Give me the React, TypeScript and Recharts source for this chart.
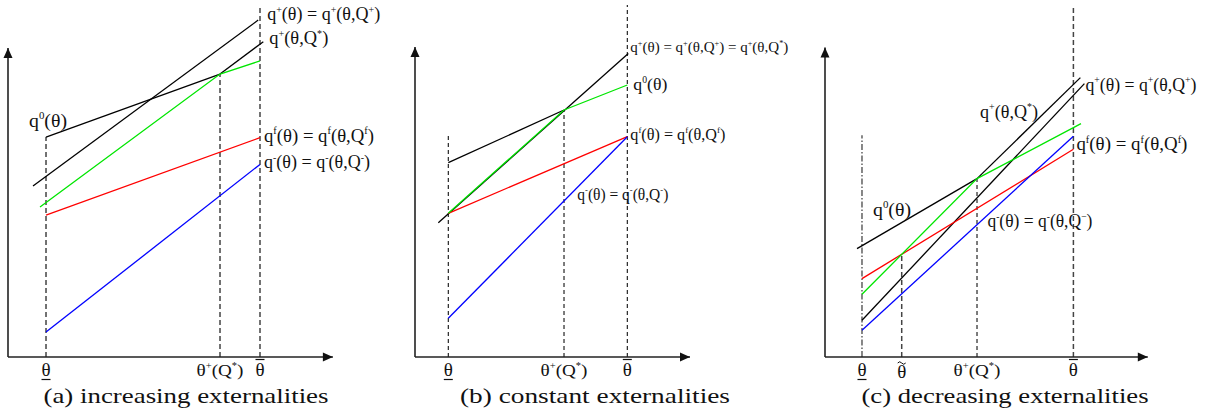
import React from "react";
import { ComposedChart, Line, Scatter, XAxis, YAxis } from "recharts";

type Pt = { x: number; y: number };

// (a) increasing externalities
const aTicks = [12.67, 70.67, 84];
const aTickKinds = ["under", "plusStar", "over"];
const aGuideTops = [73.3, 94.3, 117.3];
const aAxisEnds = [108.3, 103];
const aQPlus: Pt[] = [{ x: 8.33, y: 57 }, { x: 83.4, y: 112.3 }];
const aQ0: Pt[] = [{ x: 12.67, y: 73.3 }, { x: 70.67, y: 94.3 }];
const aQPlusStar: Pt[] = [{ x: 70.67, y: 94.3 }, { x: 85.1, y: 105.1 }];
const aOptimal: Pt[] = [{ x: 10.67, y: 50 }, { x: 70.67, y: 94.3 }, { x: 84, y: 98.7 }];
const aQf: Pt[] = [{ x: 12.67, y: 47.3 }, { x: 84, y: 73.1 }];
const aQMinus: Pt[] = [{ x: 12.67, y: 8.3 }, { x: 84, y: 64.2 }];

// (b) constant externalities
const bTicks = [11.1, 49.67, 70.77];
const bTickKinds = ["under", "plusStar", "over"];
const bGuideTops = [74, 82.33, 117.3];
const bAxisEnds = [91.67, 103.3];
const bQPlus: Pt[] = [{ x: 7.77, y: 44.77 }, { x: 71.1, y: 101.2 }];
const bQ0: Pt[] = [{ x: 11.1, y: 64.77 }, { x: 49.67, y: 82.33 }];
const bOptimal: Pt[] = [{ x: 11.1, y: 47.9 }, { x: 49.67, y: 82.33 }, { x: 70.77, y: 90.67 }];
const bQf: Pt[] = [{ x: 11.1, y: 47.9 }, { x: 70.77, y: 73.43 }];
const bQMinus: Pt[] = [{ x: 11.1, y: 12.9 }, { x: 70.77, y: 73.43 }];

// (c) decreasing externalities
const cTicks = [12.33, 25.57, 50.67, 82.8];
const cTickKinds = ["under", "tilde", "plusStar", "over"];
const cGuideTops = [73.9, 33.9, 59.47, 117.2];
const cAxisEnds = [107.6, 103.2];
const cQ0: Pt[] = [{ x: 10.67, y: 36.13 }, { x: 50.67, y: 59.47 }];
const cOptimal: Pt[] = [{ x: 12.33, y: 20.9 }, { x: 50.67, y: 59.47 }, { x: 85.33, y: 77.8 }];
const cQPlusStar: Pt[] = [{ x: 50.67, y: 59.47 }, { x: 85.13, y: 93.13 }];
const cQPlus: Pt[] = [{ x: 12.33, y: 12.23 }, { x: 86.47, y: 91.13 }];
const cQf: Pt[] = [{ x: 12.33, y: 26.13 }, { x: 82.8, y: 69.23 }];
const cQMinus: Pt[] = [{ x: 12.33, y: 8.9 }, { x: 82.8, y: 73.57 }];

const FONT = "'Liberation Serif', 'Times New Roman', Times, serif";
const GREEN = "#00e600";

type Series = { data: Pt[]; color: string };
type Label = { at: Pt; text: string; dx: number; dy: number; len: number; size: number };
type Panel = {
  left: number;
  ticks: number[];
  kinds: string[];
  guideTops: number[];
  guideStyles: { color: string; dash: string; width: number }[];
  axisEnds: number[];
  series: Series[];
  labels: Label[];
};

// "^" marks the next character as a superscript
function MathText({ x, y, text, size = 19, anchor = "start", len }: any) {
  const parts: { s: string; sup: boolean }[] = [];
  let i = 0;
  while (i < text.length) {
    if (text[i] === "^") {
      parts.push({ s: text[i + 1], sup: true });
      i += 2;
    } else {
      let j = i;
      while (j < text.length && text[j] !== "^") j++;
      parts.push({ s: text.slice(i, j), sup: false });
      i = j;
    }
  }
  const rise = size * 0.4;
  let prevSup = false;
  return (
    <text
      x={x}
      y={y}
      style={{ fontFamily: FONT }}
      fontSize={size}
      textAnchor={anchor}
      fill="#111"
      textLength={len}
      lengthAdjust={len ? "spacingAndGlyphs" : undefined}
    >
      {parts.map((p, k) => {
        let dy = 0;
        if (p.sup && !prevSup) dy = -rise;
        if (!p.sup && prevSup) dy = rise;
        prevSup = p.sup;
        return (
          <tspan key={k} dy={dy} fontSize={p.sup ? size * 0.55 : size}>
            {p.s}
          </tspan>
        );
      })}
    </text>
  );
}

function tickShape(props: any) {
  const { cx, cy, payload } = props;
  const kind = payload.kind;
  if (kind === "plusStar") {
    return <MathText x={cx} y={cy + 19} text="θ^+(Q^*)" size={17} anchor="middle" len={47} />;
  }
  const base = kind === "tilde" ? 21 : 18.5;
  return (
    <g>
      <text x={cx} y={cy + base} style={{ fontFamily: FONT }} fontSize={19} textAnchor="middle" fill="#111">
        θ
      </text>
      {kind === "under" && <line x1={cx - 4.5} x2={cx + 4.5} y1={cy + 22.5} y2={cy + 22.5} stroke="#111" strokeWidth={1.2} />}
      {kind === "over" && <line x1={cx - 4.5} x2={cx + 4.5} y1={cy + 2.5} y2={cy + 2.5} stroke="#111" strokeWidth={1.2} />}
      {kind === "tilde" && (
        <path d={`M${cx - 4},${cy + 6} q2,-2.5 4,0 t4,0`} fill="none" stroke="#111" strokeWidth={1} />
      )}
    </g>
  );
}

const arrowDot = (dir: "up" | "right") => (props: any) => {
  const { cx, cy, index } = props;
  if (index !== 1) return <g key={`n${index}`} />;
  const d =
    dir === "up"
      ? `M${cx},${cy} L${cx - 4.5},${cy + 10} L${cx + 4.5},${cy + 10} Z`
      : `M${cx},${cy} L${cx - 10},${cy - 4.5} L${cx - 10},${cy + 4.5} Z`;
  return <path key="arrow" d={d} fill="#111" />;
};

const grayDash = { color: "#444", dash: "5 3", width: 1.5 };
const blackDash = { color: "#111", dash: "4 3", width: 1.1 };
const dashDot = { color: "#555", dash: "6 2 1.5 2", width: 1.4 };

const panels: Panel[] = [
  {
    left: 2,
    ticks: aTicks,
    kinds: aTickKinds,
    guideTops: aGuideTops,
    guideStyles: [grayDash, grayDash, grayDash],
    axisEnds: aAxisEnds,
    series: [
      { data: aQPlus, color: "#000" },
      { data: aQ0, color: "#000" },
      { data: aQPlusStar, color: "#000" },
      { data: aQf, color: "#ff0000" },
      { data: aQMinus, color: "#0000ff" },
      { data: aOptimal, color: GREEN },
    ],
    labels: [
      { at: aQPlus[1], text: "q^+(θ) = q^+(θ,Q^+)", dx: 9, dy: 0, len: 113, size: 18 },
      { at: aQPlusStar[1], text: "q^+(θ,Q^*)", dx: 6, dy: 2, len: 59, size: 18 },
      { at: aQ0[0], text: "q^0(θ)", dx: -17, dy: -10, len: 38, size: 19.5 },
      { at: aQf[1], text: "q^f(θ) = q^f(θ,Q^f)", dx: 4, dy: 4, len: 110, size: 18.5 },
      { at: aQMinus[1], text: "q^-(θ) = q^-(θ,Q^-)", dx: 4, dy: 4, len: 106, size: 18 },
    ],
  },
  {
    left: 409,
    ticks: bTicks,
    kinds: bTickKinds,
    guideTops: bGuideTops,
    guideStyles: [blackDash, blackDash, blackDash],
    axisEnds: bAxisEnds,
    series: [
      { data: bQPlus, color: "#000" },
      { data: bQ0, color: "#000" },
      { data: bQf, color: "#ff0000" },
      { data: bQMinus, color: "#0000ff" },
      { data: bOptimal, color: GREEN },
    ],
    labels: [
      { at: bQPlus[1], text: "q^+(θ) = q^+(θ,Q^+) = q^+(θ,Q^*)", dx: 2, dy: -1, len: 158, size: 15 },
      { at: bOptimal[2], text: "q^0(θ)", dx: 6, dy: 5, len: 34, size: 17.5 },
      { at: bQf[1], text: "q^f(θ) = q^f(θ,Q^f)", dx: 3, dy: 3, len: 95, size: 16.5 },
      { at: bQMinus[1], text: "q^-(θ) = q^-(θ,Q^-)", dx: -50, dy: 63, len: 91, size: 16 },
    ],
  },
  {
    left: 819,
    ticks: cTicks,
    kinds: cTickKinds,
    guideTops: cGuideTops,
    guideStyles: [dashDot, grayDash, blackDash, grayDash],
    axisEnds: cAxisEnds,
    series: [
      { data: cQ0, color: "#000" },
      { data: cQPlusStar, color: "#000" },
      { data: cQPlus, color: "#000" },
      { data: cQf, color: "#ff0000" },
      { data: cQMinus, color: "#0000ff" },
      { data: cOptimal, color: GREEN },
    ],
    labels: [
      { at: cQPlus[1], text: "q^+(θ) = q^+(θ,Q^+)", dx: 1, dy: 7, len: 111, size: 18 },
      { at: cQPlusStar[0], text: "q^+(θ,Q^*)", dx: 3, dy: -61, len: 58, size: 18 },
      { at: cQf[1], text: "q^f(θ) = q^f(θ,Q^f)", dx: 3, dy: 1, len: 111, size: 19 },
      { at: cQMinus[1], text: "q^-(θ) = q^-(θ,Q^−)", dx: -86, dy: 91, len: 105, size: 18 },
      { at: cQ0[0], text: "q^0(θ)", dx: 16, dy: -33, len: 38, size: 19.5 },
    ],
  },
];

const captions = [
  { text: "(a)  increasing externalities", cx: 186, len: 285 },
  { text: "(b)  constant externalities", cx: 595, len: 270 },
  { text: "(c)  decreasing externalities", cx: 1005, len: 287 },
];

function PanelChart({ p }: { p: Panel }) {
  return (
    <div style={{ position: "absolute", left: p.left, top: 0 }}>
      <ComposedChart width={390} height={390} margin={{ top: 0, right: 0, bottom: 0, left: 0 }}>
        <XAxis type="number" dataKey="x" domain={[-2, 128]} hide />
        <YAxis type="number" dataKey="y" domain={[-11, 119]} hide />
        {p.ticks.map((t, i) => (
          <Line
            key={`g${i}`}
            data={[{ x: t, y: 0 }, { x: t, y: p.guideTops[i] }]}
            dataKey="y"
            stroke={p.guideStyles[i].color}
            strokeWidth={p.guideStyles[i].width}
            strokeDasharray={p.guideStyles[i].dash}
            dot={false}
            activeDot={false}
            isAnimationActive={false}
          />
        ))}
        <Line
          data={[{ x: 0, y: 0 }, { x: p.axisEnds[0], y: 0 }]}
          dataKey="y"
          stroke="#222"
          strokeWidth={1.6}
          dot={arrowDot("right")}
          activeDot={false}
          isAnimationActive={false}
        />
        <Line
          data={[{ x: 0, y: 0 }, { x: 0, y: p.axisEnds[1] }]}
          dataKey="y"
          stroke="#222"
          strokeWidth={1.6}
          dot={arrowDot("up")}
          activeDot={false}
          isAnimationActive={false}
        />
        {p.series.map((s, i) => (
          <Line
            key={`s${i}`}
            data={s.data}
            dataKey="y"
            stroke={s.color}
            strokeWidth={1.3}
            dot={false}
            activeDot={false}
            isAnimationActive={false}
          />
        ))}
        <Scatter
          data={p.ticks.map((t, i) => ({ x: t, y: 0, kind: p.kinds[i] }))}
          shape={tickShape}
          isAnimationActive={false}
        />
        {p.labels.map((l, i) => (
          <Scatter
            key={`l${i}`}
            data={[{ x: l.at.x, y: l.at.y }]}
            shape={(props: any) => (
              <MathText x={props.cx + l.dx} y={props.cy + l.dy} text={l.text} size={l.size} len={l.len} />
            )}
            isAnimationActive={false}
          />
        ))}
      </ComposedChart>
    </div>
  );
}

export default function App() {
  return (
    <div style={{ position: "absolute", left: 0, top: 0, width: 1208, height: 412, background: "#fff" }}>
      {panels.map((p, i) => (
        <PanelChart key={i} p={p} />
      ))}
      <svg width={1208} height={412} style={{ position: "absolute", left: 0, top: 0, pointerEvents: "none" }}>
        {captions.map((c, i) => (
          <text
            key={i}
            x={c.cx}
            y={403}
            textAnchor="middle"
            style={{ fontFamily: FONT }}
            fontSize={22}
            textLength={c.len}
            lengthAdjust="spacingAndGlyphs"
            fill="#111"
          >
            {c.text}
          </text>
        ))}
      </svg>
    </div>
  );
}
